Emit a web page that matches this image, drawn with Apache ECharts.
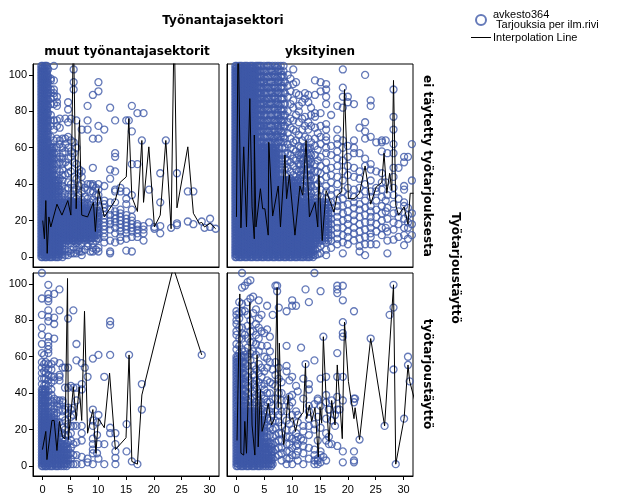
<!DOCTYPE html>
<html><head><meta charset="utf-8">
<style>html,body{margin:0;padding:0;background:#fff}#c{width:629px;height:504px}</style>
<script src="https://cdn.jsdelivr.net/npm/echarts@6/dist/echarts.min.js"></script>
</head><body><div id="c"></div>
<script>
const xTicks=[0,5,10,15,20,25,30];
const yTicks=[0,20,40,60,80,100];
const columnNames=['muut työnantajasektorit','yksityinen'];
const rowNames=['ei täytetty työtarjouksesta','työtarjoustäyttö'];

// recurring y levels of the dense bands
const lowA=[0,1.5,3,4.5,6,7.5,9,10.5,12,13.5,15,16.5,18,19.5,21,22.5,24,25.5,27,28.5,30];
const lowB=[0.75,2.25,3.75,5.25,6.75,8.25,9.75,11.25,12.75,14.25,15.75,17.25,18.75,20.25,21.75,23.25,24.75,26.25,27.75,29.25];
const midA=[31.5,33,34.5,36,37.5,39,40.5,42,43.5,45,46.5,48,49.5,51,52.5,54,55.5,57,58.5,60];
const midB=[30.75,32.25,33.75,35.25,36.75,38.25,39.75,41.25,42.75,44.25,45.75,47.25,48.75,50.25,51.75,53.25,54.75,56.25,57.75,59.25];
const midS=[33,36,39,42,45,48,51,54,57,60];
const midLow=[31.5,33,34.5,36,37.5,39,40.5,42];
const hiA=[61.5,63,64.5,66,67.5,69,70.5,72,73.5,75,76.5,78,79.5,81,82.5,84,85.5,87,88.5,90,91.5,93,94.5,96,97.5,99,100.5,102,103.5,105];
const hiB=[60.75,62.25,63.75,65.25,66.75,68.25,69.75,71.25,72.75,74.25,75.75,77.25,78.75,80.25,81.75,83.25,84.75,86.25,87.75,89.25,90.75,92.25,93.75,95.25,96.75,98.25,99.75,101.25,102.75,104.25];
const hiS=[63,66,69,72,75,78,81,84,87,90,93,96,99,102,105];
const coreA=[9,10.5,12,13.5,15,16.5,18,19.5,21,22.5,24,25.5,27,28.5,30];
const coreB=[7.5,9.75,11.25,12.75,14.25,15.75,17.25,18.75,20.25,21.75,23.25,24.75,26.25,27.75,29.25];
const coreLow=[10.5,12,13.5,15,16.5,18,19.5,21,22.5,24,25.5];
const lowTiny=[0,1.5,3,4.5,6,7.5,9,10.5,12];
const lowMost=[0,1.5,3,4.5,6,7.5,9,10.5,12,13.5,15,16.5,18,19.5,21,22.5,24];

// x positions of the solid parts, one list per panel and band
const tlFullX=[0,0.4,0.8];
const tlMidX=[1.25,1.75];
const tlMidSparseX=[2.3,2.85];
const tlCoreX=[3.35,3.85,4.35,4.85,5.35,5.85,6.35];
const tlCoreLowX=[6.85,7.3,7.85,8.35,8.85,9.3,9.85];
const trFullX=[0,0.45,0.95,1.45,1.95,2.45,2.95,3.45];
const trMidX=[3.95,4.45,4.95,5.45,5.95,6.45,6.95];
const trMidLowX=[7.45,7.95,8.45,8.95,9.45,9.95,10.45,10.95];
const trLowX=[11.45,12.05,12.6,13.15,13.75];
const trCoreX=[14.35,14.85,15.4,15.9,16.5];
const trHiRingX=[3.95,4.45,4.95,5.45,5.95,6.45,6.95,7.45,7.95,8.45];
const trMidRingX=[11.5,12.1,12.65,13.2];
const blMidX=[0.1,0.45];
const blLowX=[0.85,1.3,1.8,2.35];
const blTinyX=[2.85,3.35,3.85,4.35];
const brMidX=[0.25,0.75,1.25];
const brLowX=[1.75,2.25,2.75,3.25];
const brMostX=[3.75,4.25];
const brTinyX=[4.75,5.25,5.75,6.25];

const tlColumns=[
...tlFullX.map(x=>[x,[...lowA,...midA,...hiA]]),...tlMidX.map(x=>[x,[...lowA,...midA]]),...tlMidSparseX.map(x=>[x,[...lowA,...midLow]]),...tlCoreX.map(x=>[x,coreA]),...tlCoreLowX.map(x=>[x,coreLow]),
[-0.2,[...lowA,...midA,...hiA]],[0.2,[...lowB,...midB,...hiB]],[0.6,[...lowA,...midA,...hiS]],[1,[...lowB,...midB,63,67,71,75,79,83,86,90,93,96,99,103]],
[1.5,[...lowA,...midS,62,66,72,75,78,84,87,90,92,97,98]],[2.05,[...lowB,...midS,64,70,75,84,88,90,92,97,105]],
[2.6,[...lowA,...midS,65,72,75,83,85,88]],[3.1,[...lowB,31.5,37,43,47,52,55,62,64,71,76]],
[3.6,[...lowA,33,36,39,42,45,48,51,54,57,60,65]],[4.1,[...coreB,4,1,31.5,34.5,37.5,45,52,58,62,65,76]],
[4.6,[...coreA,3,1,33,38,41,46,50,54,60,66,74,81,85]],[5.1,[...coreB,2,4,31,34,40,47,55,58,64,76]],
[5.6,[...coreA,5,2,33,36,38,44,52,57,63,92,96,103]],[6.1,[...coreB,2,4,32,37,43,51,60,75]],
[6.6,[...coreA,3,5,34,39,46,48]],[7.05,[...coreB,1,3,31.5,36,40,44,47,70]],[7.6,[...coreA,33,38,4]],
[8.1,[...coreB,6,32,37,40,70,75,83]],[8.6,[...coreA,3,36,40]],[9.05,[7.5,10.5,13.5,16.5,19.5,22.5,25.5,3,5,31.5,36,39,40,49,65,89]],
[9.6,[9,12,15,18,21,24,27,30,4,34,38]],[10.05,[10,13,16,19,22,25,28,31,3,5,34,37,40,65,72,91,96]],
[11.1,[8,11,13,15,17,19,21,23,25,27,29,31,39,70]],[12.15,[2,3,9,15,18,20,23,26,30,43,48,82]],
[13.05,[8,13,16,19,21,23,25,30,36,37,47,55,57,75]],[14,[9,11,14,16,18,20,22,24,26,36,38]],
[15.05,[3.5,10,13,15,17,19,21,23,29,32,36,75]],[15.5,[75]],[16.05,[3,11,14,16,18,20,22,26,34,51,69,83]],
[17.05,[11,13,15,17,18,51,79]],[18.15,[9,13,15,17,79]],[17.85,[64]],[19.15,[19,37]],[20.1,[15.5,16.5]],[21.15,[13,17,30,46]],[22.15,[64]],[23.1,[16]],[24.15,[17.5,18.5,46]],[26.1,[19.5,36]],[27.1,[18,36]],[28.6,[19.5]],[29.1,[16]],[30.1,[16.5,21]],[31.1,[15.5]]
];
const tlLineX=[0.05,0.35,0.6,0.85,1.15,1.5,2.6,3.5,4.55,5.1,5.55,6.05,6.65,7.05,8.1,9.15,9.5,10.05,11.1,13.05,13.95,15.05,15.5,16.05,17.05,17.85,18.15,19.1,20.1,21.15,22.15,23.1,23.65,24.15,26.1,27.1,28.15,28.6,29.1,30.1,31.1];
const tlLineY=[20,10,31,2,22,16.5,29,23,31,23,125,26.5,75,23,22,30,14,37.5,22,31,41,44,76,33,25,64,30,60.5,16.5,23,64,15.5,130,27,60.5,24,18.5,19,16.5,18.5,15.5];

const trColumns=[
...trFullX.map(x=>[x,[...lowA,...midA,...hiA]]),...trMidX.map(x=>[x,[...lowA,...midA]]),...trMidLowX.map(x=>[x,[...lowA,...midLow]]),...trLowX.map(x=>[x,lowA]),...trCoreX.map(x=>[x,coreA]),
...trHiRingX.map(x=>[x,hiS]),...trMidRingX.map(x=>[x,midS]),
[-0.2,[...lowA,...midA,...hiA]],[0.2,[...lowB,...midB,...hiB]],[0.7,[...lowA,...midA,...hiA]],[1.2,[...lowB,...midB,...hiB]],
[1.7,[...lowA,...midA,...hiA]],[2.2,[...lowB,...midB,...hiB]],[2.7,[...lowA,...midA,...hiA]],[3.2,[...lowB,...midB,...hiB]],
[3.7,[...lowA,...midA,...hiS]],[4.2,[...lowB,...midB,...hiS]],[4.7,[...lowA,...midA,64,70,74,80,85,88,92,97,103]],[5.2,[...lowB,...midB,62,66,70,74,78,82,86,90,94,98,102]],
[5.7,[...lowA,...midA,63,69,75,81,87,93,99,105]],[6.2,[...lowB,...midB,62,67,72,78,85,91,96,103]],[6.7,[...lowA,...midA,65,70,75,82,88,94,100]],[7.2,[...lowB,...midB,62,67,74,79,85,91,98,104]],
[7.7,[...lowA,...midS,64,70,76,83,90,97,103]],[8.2,[...lowB,31.5,35,38,42,46,49,53,56,60,68,74,80,87,94,100]],[8.7,[...lowA,...midS,65,72,78,84,90,96]],[9.2,[...lowB,31.5,35,38,42,45,49,53,57,62,68,74,80,88,94,100]],
[9.7,[...lowA,33,36,39,43,47,52,56,60,65,71,76,84,91,98]],[10.2,[...lowB,32,35,38,41,45,50,54,59,63,70,75,82,86,95,103]],[10.7,[...lowA,33,37,41,44,48,53,58,64,69,78,90,96]],
[11.2,[...lowB,31,34,38,43,47,51,56,61,67,74,80,83,89]],[11.8,[...lowA,33,36,40,44,48,53,57,64,70,76,85]],[12.3,[...lowB,31,35,38,42,46,50,55,60,66,72,77,87,90]],
[12.9,[...lowA,33,37,41,45,49,53,59,65,70,74,85,89]],[13.4,[...lowB,31,35,39,44,48,52,56,63,72,78,82]],[14.1,[...coreA,1,4,7,32,36,39,43,47,51,56,61,65,71,77,79,89,97]],
[14.6,[1.5,4.5,7.5,10.5,13.5,16.5,19.5,22.5,25.5,28.5,34,40,47,53,59,68]],[15.1,[2,6,9,12,15,18,21,24,27,30,33,37,42,46,50,55,62,66,72,79,91,96]],
[16.1,[1,4,8,11,14,17,20,23,26,29,32,36,39,44,48,52,57,60,64,66,70,73,84,88,92,95]],[17,[5,9,12,15,18,21,24,27,30,34,37,41,45,49,56,61,78]],
[18.1,[7,10,13,16,19,22,25,28,31,35,40,44,50,54,58,62,65,70,83]],[19.1,[2,8,12,16,20,24,28,32,36,42,47,53,60,64,82,88,93,103]],
[20,[7,11,14,18,21,25,29,34,38,45,50,55,61,88,85]],[21.1,[9,13,16,20,23,27,30,33,37,44,49,57,60,64,84]],[22.1,[3,6,10,14,18,22,26,29,34,38,43,47,57,71]],
[23.1,[1,7,11,15,19,23,27,31,36,40,50,54,65,69,74,100]],[24.1,[7,11,13,16,19,22,25,28,33,36,42,48,51,66,83,86]],[25.1,[7,14,18,22,26,31,36,38,47,63]],
[26.1,[12,16,20,24,28,33,37,41,46,58,64,63]],[26.8,[16,25,31,41,64]],[27.1,[2,9,14,21,27,34,57]],[28.2,[9.5,15,19,24,29,34,38,44,49,62,57,70,77,92]],
[29.1,[11,18,22,25,32,49]],[30.1,[6.5,12,16,21,28,30,37,39,52,55]],[30.8,[10,16,19,23,27,55]],[31.5,[12,18,24,42,62]]
];
const trLineX=[0,0.3,0.6,0.8,1.3,1.8,2.4,2.8,3.2,3.2,3.5,4.3,4.7,5.1,5.7,5.8,6.5,7.5,7.9,8.7,9,9.5,10.5,11.4,11.9,12.5,13.1,14.1,14.6,14.8,15.4,16.1,17.5,18.1,18.9,19.4,20.1,21.1,22.1,23.1,24.1,25.1,26.1,26.5,27,27.5,27.9,28.2,28.6,29.1,30.1,30.8,31.2,31.8];
const trLineY=[22,125,62,16,60.5,16.5,87,27.5,10,67,16.5,37.5,26.5,26.5,12,63,22.5,39,16.5,56,32,45,12,39,34,64,22,30,16.5,45,9,36.5,24.7,34,35.7,92,32,32,35,50,29,38.5,41,57,35,46,36.5,97,28.4,23,27.5,18,35,35];

const blColumns=[
...blMidX.map(x=>[x,[...lowA,...midLow]]),...blLowX.map(x=>[x,lowMost]),...blTinyX.map(x=>[x,lowTiny]),
[-0.1,[...lowA,...midLow,45,48,51,54,57,62,67,72,76,83,92,106]],[0.3,[...lowB,32,36,40,44,48,52,56,61]],[0.6,[...lowA,33,36,39,42,45,48,51,54,57]],
[1.05,[...lowB,32,35,38,41,44,47,50,53,56,62,64,66,68,71,79.5,82,85.5,90.5,92,94.5,99.5]],[1.6,[...lowA,33,36,39,42,46,49,53,56]],
[2.1,[...coreB,1,4,7,31.5,34.5,37,47,49,57.5,70,78,81.5,94.5]],[2.6,[0,1,3,6,9,12,15,18,21,24,29,33,36]],[3.05,[1,4,7,10,13,16,19,24,31,34,36,47,49,50,56.5,85.5,97]],
[3.6,[1,3,6,9,12,15,18,21,27,30,35,36,54]],[4.05,[1,4,7,11,14,17,20,25,31,43,54]],[4.6,[1,3,6,9,13,17,23,29,32,43,54,81]],[5.1,[1,4,7,10,14,18,22,27,31,44]],
[5.55,[1,6,12,22,28,32,43,85.5]],[6.1,[1,6,13,22,36,43,58,67]],[7.05,[1,5,14,18,22,42,45,56.5]],[7.6,[54]],[8.1,[2,4,49]],
[9.05,[1,7,9,12,15,22,25,31,59]],[9.8,[17,24,7]],[10.05,[4,12,28,61]],[11.1,[1,12,49]],[12.15,[18,21,61,77.5,79.5]],[13.1,[1,4.5,8,12,18]],[15.1,[8,23]],[15.55,[61]],[16.05,[2.5]],[17.05,[1]],[17.85,[31,45]],[28.6,[61]]
];
const blLineX=[0,0.2,0.6,0.8,1.7,2.1,2.6,3.05,3.6,4.05,4.5,4.65,5.55,6.05,6.6,7.05,7.55,8.1,9.05,9.6,10.05,11.1,12.05,13.1,15,15.55,16.05,17.05,17.85,23.5,28.6];
const blLineY=[9,9,19,3.5,25,25,8.5,24.5,16,15,103,14.5,43.5,25,43.5,25,85,18,31,7,26,21,51,9,15.5,61,2.5,1,39,109,61];

const brColumns=[
...brMidX.map(x=>[x,[...lowA,...midS]]),...brLowX.map(x=>[x,lowA]),...brMostX.map(x=>[x,lowMost]),...brTinyX.map(x=>[x,lowTiny]),
[0,[...lowA,...midA,64,67,72,74,78,80,83,85]],[0.5,[...lowB,...midB,62,66,70,76,81,84,90]],[1,[...lowA,...midS,64,70,73,76,85,89,98,106]],
[1.5,[...lowB,31.5,34.5,38,41,46,50,56,61,63,72,85,99]],[2,[...lowA,33,36,40,44,49,55,60,65,70,77,83,90,101]],[2.5,[...lowB,32,35,37,43,47,52,58,62,68,74,80,92,102]],
[3,[...lowA,33,37,41,45,50,55,63,68,74,84,93]],[3.5,[...lowB,31.5,35,39,43,47,53,61,67,72,78,86]],[4,[...lowA,33,36,40,46,51,56,63,70,76,81,91]],
[4.5,[1,4,7,10,13,16,19,22,25,28,31,35,39,44,49,54,66,74,83]],[5,[...coreA,1,4,33,37,42,45,52,60,73]],[5.5,[1,4,7,10,13,16,19,22,26,30,35,40,47,54,59,66,75,88]],[6,[1,5,9,13,17,21,25,30,35,40,46,57,63,71]],[6.5,[1,4,8,12,16,20,24,28,33,37,45,53,83]],
[7,[5,9,13,17,21,25,30,37,44,50,57,99]],[7.3,[99,96]],[7.6,[6,10,14,18,24,28,33,40,48,54,87]],[8.1,[3,7,10,14,18,22,30,36,40,46]],[9,[1,4,8,12,16,20,25,30,36,52,55,66,85]],[9.5,[4,8,12,16,23,33,38,47]],
[10,[1,6,10,15,20,28,35,39,49,91,88]],[10.7,[6,11,14,18,30,44,88]],[11,[3,8,12,16,24,28,41]],[11.6,[15,65]],[12,[1,7,11,14,19,22,37,48]],[12.4,[56,97]],[13,[4,10,17,22,26,30,33,42,45,90]],
[14,[1,3,6,9,20,23,34,58,106]],[14.6,[1,3,4,14,27,36,37]],[15.1,[2,6,8,21,33,48,96]],[15.6,[5,71]],[16.1,[3,14,18,26,35,39,49]],[16.6,[12,16,31,31]],[17.1,[12,25,36]],[17.7,[22,28]],[18.1,[11,31,38,49,62,97,95,99]],[18.5,[31]],[19.1,[2,8,36,49,79,73,71,91,99]],[21.1,[2,3,8,35,37,85]],[21.3,[37]],[22.1,[14.5]],[24.1,[70]],[26.6,[22]],[27.5,[83]],[28.2,[53,87,99.5]],[28.6,[1]],[30.1,[26]],[30.8,[55.5,60]],[31.1,[46.5]]
];
const brLineX=[0.1,0.6,0.8,1.3,1.5,1.8,2.1,2.4,2.8,3.3,3.7,3.9,4.3,4.6,5.1,5.7,6.3,6.8,7.3,7.5,7.7,8.1,8.5,9.3,9.6,10.1,10.6,11.1,12,12.4,12.6,13.1,13.5,14.1,14.7,15,15.3,15.6,16.1,16.6,17.1,17.7,18.1,19,19.4,20.1,21.1,21.3,22.1,24.1,26.6,28.2,28.6,30.1,30.8,31.1,32.1];
const brLineY=[14,94.5,7,6,24.5,7,37,90,22.5,6,61,10.5,42,19,24.5,34.5,22.5,26,98,32,67.5,21.7,11.7,39,25,26.5,19,26,29.5,56.5,26,33.5,24.5,32,5,32.5,23.5,71,37,13.5,36,22.5,55.5,15,79,46.5,26,32,14.5,70,22,99.5,1,26,55.5,46.5,35];

const blue='#3f59a8';
const pts=c=>c.flatMap(([x,ys])=>ys.map(y=>[x,y]));
const zip=(a,b)=>a.map((v,i)=>[v,b[i]]);
const panels=[
 {col:tlColumns,lx:tlLineX,ly:tlLineY,box:[33,64,186,203],left:true,bottom:false},
 {col:trColumns,lx:trLineX,ly:trLineY,box:[227,64,186,203],left:false,bottom:false},
 {col:blColumns,lx:blLineX,ly:blLineY,box:[33,273,186,203],left:true,bottom:true},
 {col:brColumns,lx:brLineX,ly:brLineY,box:[227,273,186,203],left:false,bottom:true}
];
const tickFont={color:'#000',fontFamily:'Liberation Sans',fontSize:11};
const option={animation:false,backgroundColor:'#fff',
 grid:panels.map(p=>({left:p.box[0],top:p.box[1],width:p.box[2],height:p.box[3],show:true,borderColor:'#000',borderWidth:1,backgroundColor:'#fff',containLabel:false})),
 xAxis:panels.map((p,i)=>({gridIndex:i,type:'value',position:'bottom',min:-1.7,max:31.7,splitLine:{show:false},axisLine:{show:true,onZero:false,lineStyle:{color:'#000',width:1}},
   axisTick:{show:p.bottom,length:4,inside:false,lineStyle:{color:'#000'},customValues:xTicks},
   axisLabel:{show:p.bottom,...tickFont,margin:8,customValues:xTicks}})),
 yAxis:panels.map((p,i)=>({gridIndex:i,type:'value',position:'left',min:-5.5,max:106,splitLine:{show:false},axisLine:{show:true,onZero:false,lineStyle:{color:'#000',width:1}},
   axisTick:{show:p.left,length:4,lineStyle:{color:'#000'},customValues:yTicks},
   axisLabel:{show:p.left,...tickFont,margin:6,customValues:yTicks}})),
 legend:[
  {data:['avkesto364'],left:475,top:8,itemWidth:12,itemHeight:10,itemGap:0,padding:0,icon:'circle',
   formatter:()=>'avkesto364\n Tarjouksia per ilm.rivi',textStyle:{fontFamily:'Liberation Sans',fontSize:11,color:'#000',lineHeight:10,padding:[4,0,0,1]}},
  {data:[{name:'Interpolation Line',icon:'rect'}],left:471,top:32,itemWidth:20,itemHeight:1,itemGap:0,padding:0,
   itemStyle:{color:'#000',borderWidth:0},
   textStyle:{fontFamily:'Liberation Sans',fontSize:11,color:'#000',padding:[4,0,0,-3]}}
 ],
 series:panels.flatMap((p,i)=>[
  {name:'avkesto364',type:'scatter',xAxisIndex:i,yAxisIndex:i,data:pts(p.col),symbol:'circle',symbolSize:7,large:false,progressive:0,
   itemStyle:{color:'rgba(255,255,255,0)',borderColor:blue,borderWidth:1.3},silent:true,z:2},
  {name:'Interpolation Line',type:'line',xAxisIndex:i,yAxisIndex:i,data:zip(p.lx,p.ly),symbol:'none',showSymbol:false,
   lineStyle:{color:'#000',width:1},itemStyle:{color:'#000'},silent:true,z:3}
 ]),
 graphic:[
  {type:'text',x:223,y:21,style:{text:'Työnantajasektori',align:'center',verticalAlign:'middle',font:'bold 12px "DejaVu Sans"',fill:'#000'}},
  {type:'text',x:127,y:52,style:{text:columnNames[0],align:'center',verticalAlign:'middle',font:'bold 12px "DejaVu Sans"',fill:'#000'}},
  {type:'text',x:320,y:52,style:{text:columnNames[1],align:'center',verticalAlign:'middle',font:'bold 12px "DejaVu Sans"',fill:'#000'}},
  {type:'text',x:427,y:166,rotation:-Math.PI/2,style:{text:rowNames[0],align:'center',verticalAlign:'middle',font:'bold 12px "DejaVu Sans"',fill:'#000'}},
  {type:'text',x:427,y:374,rotation:-Math.PI/2,style:{text:rowNames[1],align:'center',verticalAlign:'middle',font:'bold 12px "DejaVu Sans"',fill:'#000'}},
  {type:'text',x:455,y:268,rotation:-Math.PI/2,style:{text:'Työtarjoustäyttö',align:'center',verticalAlign:'middle',font:'bold 12px "DejaVu Sans"',fill:'#000'}}
 ]
};
echarts.init(document.getElementById('c'),null,{renderer:'canvas'}).setOption(option);
</script></body></html>
